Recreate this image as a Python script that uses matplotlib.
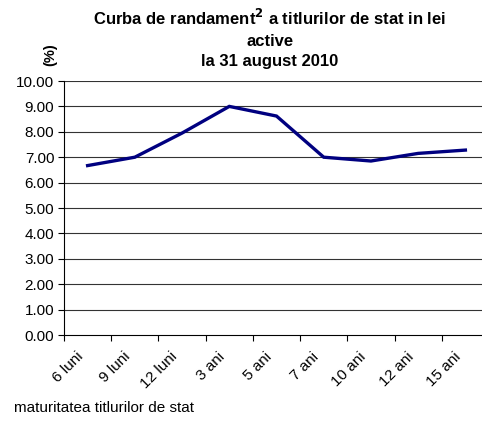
import matplotlib
matplotlib.use("Agg")
import matplotlib.pyplot as plt
import matplotlib.transforms as mtransforms
import numpy as np

plt.rcParams["font.family"] = ["Liberation Sans", "DejaVu Sans"]

maturities = ["6 luni", "9 luni", "12 luni", "3 ani", "5 ani", "7 ani", "10 ani", "12 ani", "15 ani"]
yields = [6.67, 7.00, 7.95, 9.00, 8.62, 7.00, 6.85, 7.15, 7.28]
yticks = [0, 1, 2, 3, 4, 5, 6, 7, 8, 9, 10]

fig = plt.figure(figsize=(4.82, 4.23), dpi=100)
# axes runs slightly past the right edge, as in the original
ax = fig.add_axes([64 / 482, 1 - 335 / 423, 425 / 482, 254 / 423])

x = np.arange(len(maturities))
ax.plot(x, yields, color="#000080", linewidth=2.4, solid_joinstyle="miter")

ax.set_xlim(-0.5, len(maturities) - 0.5)
ax.set_ylim(0, 10)
ax.set_yticks(yticks)
ax.set_yticklabels([f"{v:.2f}" for v in yticks], fontsize=11)
for v in yticks[1:]:
    ax.axhline(v, color="#333333", linewidth=0.8, zorder=0)

# boundary ticks (major), category labels in between (minor)
ax.set_xticks(x - 0.5)
ax.set_xticklabels([])
ax.set_xticks(x, minor=True)
ax.set_xticklabels(maturities, minor=True, fontsize=11)
ax.tick_params(axis="x", which="minor", length=0, pad=14)
ax.tick_params(axis="x", which="major", length=4, direction="out")
ax.tick_params(axis="y", length=4, direction="out", pad=3)
shift = mtransforms.ScaledTranslation(-7 / 100, 0, fig.dpi_scale_trans)
for lbl in ax.get_xticklabels(minor=True):
    lbl.set_rotation(45)
    lbl.set_ha("right")
    lbl.set_va("center")
    lbl.set_rotation_mode("anchor")
    lbl.set_transform(lbl.get_transform() + shift)

for s in ["top", "right"]:
    ax.spines[s].set_visible(False)

fig.text(270 / 482, 1 - 8 / 423, "Curba de randament$^{\\mathbf{2}}$ a titlurilor de stat in lei\nactive\nla 31 august 2010",
         ha="center", va="top", fontsize=12, fontweight="bold", linespacing=1.45)
fig.text(50 / 482, 1 - 55 / 423, "(%)", rotation=90, ha="center", va="center", fontsize=10.5, fontweight="bold")
fig.text(14 / 482, 1 - 408 / 423, "maturitatea titlurilor de stat", ha="left", va="center", fontsize=11)

fig.savefig("out.png", dpi=100)
